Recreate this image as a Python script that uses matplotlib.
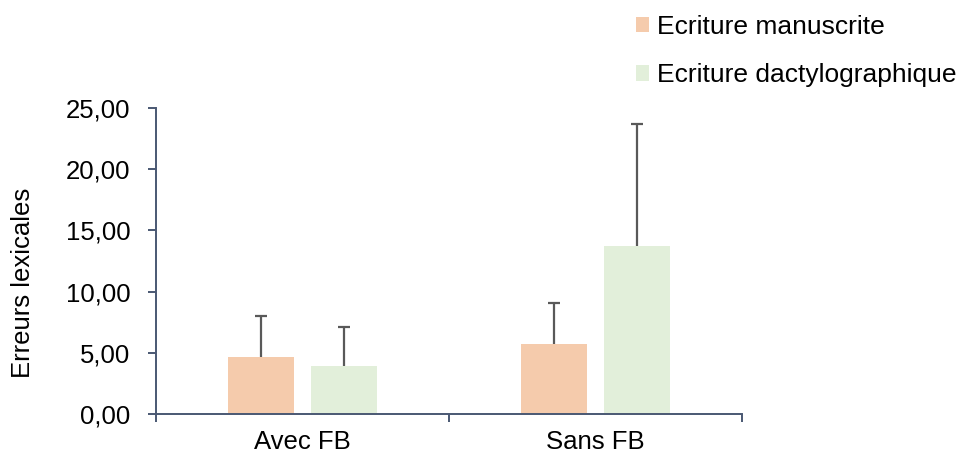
"""Lexical errors by feedback condition and writing mode -> out.png"""

import matplotlib.pyplot as plt
import numpy as np
from matplotlib.patches import Patch
from matplotlib.ticker import FuncFormatter

CONDITIONS = ["Avec FB", "Sans FB"]
SERIES = ["Ecriture manuscrite", "Ecriture dactylographique"]
MANUSCRITE = [4.65, 5.73]
MANUSCRITE_SD = [3.36, 3.34]
DACTYLO = [3.91, 13.72]
DACTYLO_SD = [3.21, 10.00]

plt.rcParams["font.family"] = ["Liberation Sans", "DejaVu Sans"]
AXIS = "#4a5873"
COLORS = ["#f5cbac", "#e2efda"]
FS = 18.5


def main() -> None:
    fig = plt.figure(figsize=(9.6, 4.57), dpi=100)
    ax = fig.add_axes([0.162, 0.0934, 0.611, 0.6706])

    x = np.arange(len(CONDITIONS))
    width, off = 0.225, 0.142
    for vals, sd, color, dx in [(MANUSCRITE, MANUSCRITE_SD, COLORS[0], -off),
                                (DACTYLO, DACTYLO_SD, COLORS[1], off)]:
        ax.bar(x + dx, vals, width, color=color, zorder=2)
        _, caps, _ = ax.errorbar(x + dx, vals, yerr=[np.zeros(len(vals)), sd],
                                 fmt="none", ecolor="#595959", elinewidth=1.6,
                                 capsize=4.5, capthick=1.6, zorder=3)
        caps[0].set_visible(False)  # no cap at the bar top

    ax.set_xlim(-0.5, 1.5)
    ax.set_ylim(0, 25)
    ax.set_yticks(np.arange(0, 26, 5))
    ax.yaxis.set_major_formatter(FuncFormatter(lambda v, _: f"{v:.2f}".replace(".", ",")))
    ax.set_xticks(x)
    ax.set_xticklabels(CONDITIONS)
    ax.set_xticks([-0.5, 0.5, 1.5], minor=True)
    ax.tick_params(axis="x", which="major", length=0, pad=11, labelsize=FS)
    ax.tick_params(axis="x", which="minor", length=6, width=1.4, color=AXIS)
    ax.tick_params(axis="y", length=6, width=1.4, color=AXIS, labelsize=FS, pad=12)

    for side in ("top", "right"):
        ax.spines[side].set_visible(False)
    for side in ("left", "bottom"):
        ax.spines[side].set_color(AXIS)
        ax.spines[side].set_linewidth(1.4)

    ax.set_ylabel("Erreurs lexicales", fontsize=FS)
    ax.yaxis.set_label_coords(-0.205, 0.43)

    handles = [Patch(facecolor=c, edgecolor="none") for c in COLORS]
    fig.legend(handles, SERIES, loc="upper left", bbox_to_anchor=(0.662, 0.967),
               frameon=False, fontsize=19, handlelength=0.5, handleheight=0.5,
               handletextpad=0.3, labelspacing=0.92, borderpad=0,
               borderaxespad=0)

    fig.savefig("out.png", dpi=100)


if __name__ == "__main__":
    main()
